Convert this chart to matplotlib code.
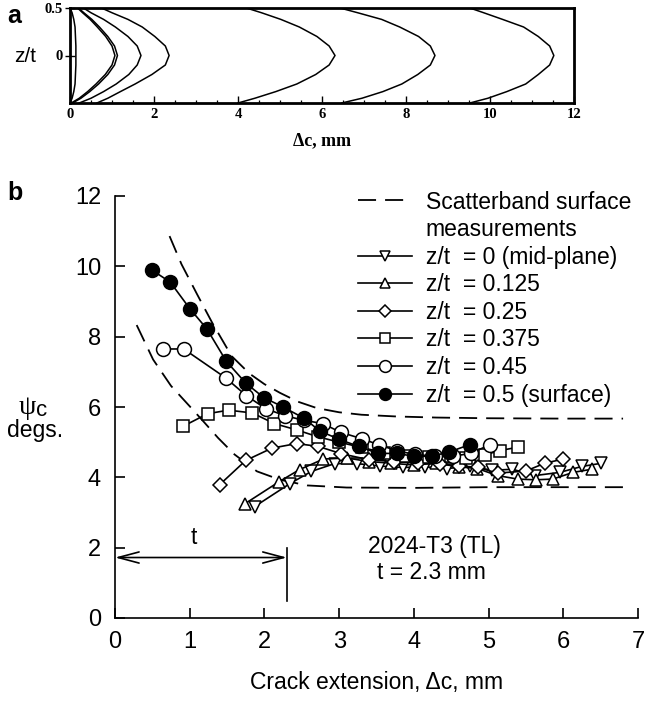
import matplotlib
matplotlib.use("Agg")
import matplotlib.pyplot as plt
from matplotlib.lines import Line2D
from matplotlib.ticker import MultipleLocator

plt.rcParams['font.family'] = ['Liberation Sans', 'DejaVu Sans']

# ---------------- panel a: crack front profiles ----------------
front_z = [0.5, 0.45, 0.38, 0.3, 0.2, 0.1, 0.0, -0.1, -0.2, -0.3, -0.38, -0.45, -0.5]
front_1 = [0.0, 0.05, 0.09, 0.12, 0.13, 0.14, 0.14, 0.14, 0.13, 0.12, 0.09, 0.05, 0.0]
front_2 = [0.18, 0.30, 0.48, 0.65, 0.85, 1.00, 1.07, 1.00, 0.84, 0.62, 0.42, 0.22, 0.03]
front_3 = [0.20, 0.33, 0.52, 0.70, 0.90, 1.06, 1.13, 1.06, 0.90, 0.68, 0.47, 0.26, 0.06]
front_4 = [0.32, 0.50, 0.80, 1.08, 1.38, 1.60, 1.69, 1.60, 1.40, 1.10, 0.80, 0.50, 0.22]
front_5 = [0.75, 1.00, 1.38, 1.72, 2.02, 2.27, 2.36, 2.27, 1.95, 1.55, 1.20, 0.90, 0.64]
front_6 = [4.20, 4.56, 5.02, 5.46, 5.88, 6.17, 6.31, 6.17, 5.85, 5.40, 4.90, 4.40, 4.00]
front_7 = [6.43, 6.85, 7.42, 7.85, 8.30, 8.58, 8.69, 8.58, 8.28, 7.90, 7.45, 6.95, 6.47]
front_8 = [9.52, 9.85, 10.30, 10.80, 11.15, 11.42, 11.52, 11.42, 11.15, 10.85, 10.40, 9.95, 9.52]
fronts = [front_1, front_2, front_3, front_4, front_5, front_6, front_7, front_8]

a_xticks = [0, 2, 4, 6, 8, 10, 12]

# ---------------- panel b: crack-front angle vs crack extension ----------------
dc_mid = [1.87, 2.34, 2.63, 2.94, 3.24, 3.55, 3.85, 4.15, 4.45, 4.75, 5.05, 5.32, 5.62, 5.95, 6.25, 6.51]
psi_mid = [3.17, 3.82, 4.17, 4.39, 4.39, 4.32, 4.28, 4.30, 4.25, 4.32, 4.20, 4.23, 4.05, 4.14, 4.31, 4.40]

dc_0125 = [1.74, 2.20, 2.47, 2.79, 3.10, 3.40, 3.70, 4.00, 4.30, 4.60, 4.85, 5.12, 5.39, 5.63, 5.86, 6.13, 6.38]
psi_0125 = [3.25, 3.88, 4.22, 4.52, 4.55, 4.45, 4.40, 4.35, 4.40, 4.30, 4.25, 4.05, 3.95, 3.93, 3.95, 4.14, 4.23]

dc_025 = [1.40, 1.75, 2.10, 2.43, 2.72, 3.03, 3.40, 3.73, 4.05, 4.35, 4.60, 4.86, 5.12, 5.50, 5.75, 6.00]
psi_025 = [3.79, 4.48, 4.83, 4.96, 4.88, 4.67, 4.50, 4.45, 4.40, 4.38, 4.33, 4.28, 4.12, 4.18, 4.40, 4.52]

dc_0375 = [0.91, 1.24, 1.52, 1.84, 2.13, 2.43, 2.72, 3.00, 3.30, 3.60, 3.90, 4.20, 4.50, 4.70, 4.95, 5.15, 5.40]
psi_0375 = [5.45, 5.81, 5.91, 5.83, 5.53, 5.35, 5.15, 5.00, 4.85, 4.70, 4.62, 4.58, 4.60, 4.55, 4.64, 4.76, 4.86]

dc_045 = [0.64, 0.92, 1.48, 1.76, 2.02, 2.28, 2.53, 2.78, 3.02, 3.30, 3.54, 3.78, 4.02, 4.28, 4.52, 4.76, 5.02]
psi_045 = [7.65, 7.65, 6.83, 6.32, 5.95, 5.75, 5.62, 5.53, 5.28, 5.10, 4.92, 4.75, 4.65, 4.60, 4.60, 4.68, 4.93]

dc_surf = [0.49, 0.74, 1.00, 1.23, 1.49, 1.75, 1.99, 2.25, 2.53, 2.74, 3.00, 3.26, 3.52, 3.77, 4.00, 4.24, 4.47, 4.75]
psi_surf = [9.90, 9.55, 8.80, 8.22, 7.30, 6.68, 6.27, 6.00, 5.68, 5.32, 5.08, 4.88, 4.68, 4.68, 4.60, 4.60, 4.72, 4.93]

band_hi_dc = [0.73, 0.89, 1.10, 1.30, 1.56, 1.80, 2.00, 2.21, 2.45, 2.70, 3.00, 3.30, 3.77, 4.30, 5.00, 6.00, 6.80]
band_hi_psi = [10.86, 10.06, 9.20, 8.40, 7.45, 6.95, 6.65, 6.40, 6.15, 5.97, 5.85, 5.78, 5.73, 5.70, 5.68, 5.67, 5.67]
band_lo_dc = [0.29, 0.51, 0.75, 1.00, 1.20, 1.38, 1.60, 1.90, 2.21, 2.57, 3.10, 4.00, 5.00, 6.00, 6.80]
band_lo_psi = [8.33, 7.35, 6.60, 6.02, 5.55, 5.12, 4.65, 4.17, 3.93, 3.77, 3.71, 3.70, 3.72, 3.72, 3.72]

series_labels = ["z/t  = 0 (mid-plane)", "z/t  = 0.125", "z/t  = 0.25",
                 "z/t  = 0.375", "z/t  = 0.45", "z/t  = 0.5 (surface)"]
series_markers = ['v', '^', 'D', 's', 'o', 'o']
series_sizes = [9, 9, 7.6, 9, 10, 10]
series_faces = ['white', 'white', 'white', 'white', 'white', 'black']

thickness = 2.3
b_xticks = [0, 1, 2, 3, 4, 5, 6, 7]
b_yticks = [0, 2, 4, 6, 8, 10, 12]

W, H = 646, 701
fig = plt.figure(figsize=(W / 100, H / 100), dpi=100)

# ---- panel a ----
axa = fig.add_axes([70 / W, 1 - 103 / H, 504 / W, 95 / H])
for f in fronts:
    axa.plot(f, front_z, color='black', lw=1.1)
axa.set_xlim(0, 12)
axa.set_ylim(-0.5, 0.5)
axa.set_xticks(a_xticks)
axa.xaxis.set_minor_locator(MultipleLocator(0.5))
axa.set_yticks([0, 0.5])
axa.set_yticklabels(['0', '0.5'])
for s in axa.spines.values():
    s.set_linewidth(2.0)
serif_bold = dict(family='Liberation Serif', weight='bold', size=10.5)
axa.tick_params(axis='x', which='major', direction='in', length=5, width=1.0, pad=3.5)
axa.tick_params(axis='x', which='minor', direction='in', length=2.5, width=0.9)
axa.tick_params(axis='y', which='major', direction='inout', length=7, width=1.0, pad=2)
for lab in axa.get_xticklabels() + axa.get_yticklabels():
    lab.set_fontproperties(serif_bold)
axa.set_xlabel('Δc, mm', fontfamily='Liberation Serif', fontweight='bold', fontsize=13, labelpad=8)
fig.text(25 / W, 1 - 57 / H, 'z/t', fontsize=15, ha='center', va='center')
fig.text(14 / W, 1 - 16 / H, 'a', fontsize=18, fontweight='bold', ha='center', va='center')

# ---- panel b ----
axb = fig.add_axes([115 / W, 1 - 618 / H, 523 / W, 422 / H])
dash = (0, (10, 5))
axb.plot(band_hi_dc, band_hi_psi, color='black', lw=1.3, linestyle=dash)
axb.plot(band_lo_dc, band_lo_psi, color='black', lw=1.3, linestyle=dash)

series = [(dc_mid, psi_mid), (dc_0125, psi_0125), (dc_025, psi_025),
          (dc_0375, psi_0375), (dc_045, psi_045), (dc_surf, psi_surf)]
handles = [Line2D([], [], color='black', lw=1.3, linestyle=dash),
           Line2D([], [], linestyle='none', marker='none')]
labels = ['Scatterband surface', 'measurements']
for (xs, ys), lab, mk, ms, fc in zip(series, series_labels, series_markers, series_sizes, series_faces):
    axb.plot(xs, ys, color='black', lw=1.2, marker=mk, markersize=ms,
             markerfacecolor=fc, markeredgecolor='black', markeredgewidth=1.1)
    handles.append(Line2D([], [], color='black', lw=1.2, marker=mk, markersize=ms * 0.85,
                          markerfacecolor=fc, markeredgecolor='black', markeredgewidth=1.1))
    labels.append(lab)

axb.set_xlim(0, 7)
axb.set_ylim(0, 12)
axb.set_xticks(b_xticks)
axb.set_yticks(b_yticks)
axb.spines['top'].set_visible(False)
axb.spines['right'].set_visible(False)
axb.spines['left'].set_linewidth(1.2)
axb.spines['bottom'].set_linewidth(1.2)
axb.tick_params(axis='both', direction='in', length=7, width=1.2, labelsize=17)
axb.tick_params(axis='x', pad=9)
axb.tick_params(axis='y', pad=10)
axb.set_xlabel('Crack extension, Δc, mm', fontsize=16.5, labelpad=13)

leg = axb.legend(handles, labels, loc='upper left', bbox_to_anchor=(0.4646, 1.013),
                 frameon=False, fontsize=16.5, handlelength=2.36, handletextpad=0.6,
                 labelspacing=0.2, borderpad=0, borderaxespad=0)

# thickness marker
axb.annotate('', xy=(0, 1.72), xytext=(thickness, 1.72),
             arrowprops=dict(arrowstyle='<->,head_length=1.5,head_width=0.4',
                             lw=1.2, color='black', shrinkA=0, shrinkB=0,
                             mutation_scale=10))
axb.plot([thickness, thickness], [0.49, 2.0], color='black', lw=1.2)
axb.text(1.05, 2.3, 't', fontsize=16.5, ha='center', va='center')
axb.text(4.27, 2.02, '2024-T3 (TL)', fontsize=16.5, ha='center', va='center')
axb.text(4.23, 1.3, 't = 2.3 mm', fontsize=16.5, ha='center', va='center')

# y-axis label
fig.text(27 / W, 1 - 407 / H, 'ψ', fontsize=20, family='Liberation Serif', ha='center', va='center')
fig.text(42 / W, 1 - 411 / H, 'c', fontsize=16, ha='center', va='center')
fig.text(35 / W, 1 - 431 / H, 'degs.', fontsize=16.5, ha='center', va='center')
fig.text(15 / W, 1 - 193 / H, 'b', fontsize=18, fontweight='bold', ha='center', va='center')

fig.savefig('out.png', dpi=100)
